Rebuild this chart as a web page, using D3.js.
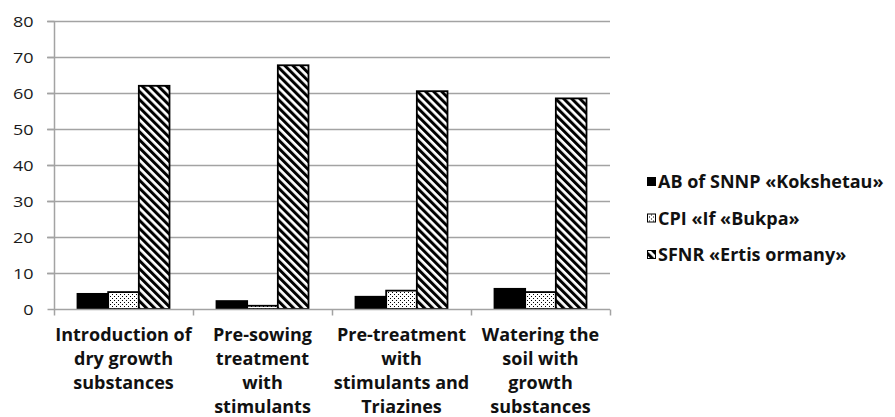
<!DOCTYPE html>
<html><head><meta charset="utf-8">
<script src="https://cdn.jsdelivr.net/npm/d3@7"></script>
<style>body{margin:0;background:#fff;} svg{display:block;}</style>
</head><body>
<svg id="c" width="895" height="417"></svg>
<script>
const categories = [
  ["Introduction of","dry growth","substances"],
  ["Pre-sowing","treatment","with","stimulants"],
  ["Pre-treatment","with","stimulants and","Triazines"],
  ["Watering the","soil with","growth","substances"]
];
const seriesNames = ["AB of SNNP «Kokshetau»","CPI «If «Bukpa»","SFNR «Ertis ormany»"];
const seriesAB = [4.2, 2.2, 3.4, 5.6];
const seriesCPI = [4.7, 0.9, 5.1, 4.7];
const seriesSFNR = [62.0, 67.7, 60.5, 58.5];
const yTicks = [0,10,20,30,40,50,60,70,80];

const svg = d3.select("#c");
const defs = svg.append("defs");
const dots = defs.append("pattern").attr("id","dots").attr("patternUnits","userSpaceOnUse")
  .attr("width",4).attr("height",4);
dots.append("rect").attr("width",4).attr("height",4).attr("fill","#fff");
dots.append("rect").attr("x",0).attr("y",0).attr("width",1).attr("height",1).attr("fill","#000");
dots.append("rect").attr("x",2).attr("y",2).attr("width",1).attr("height",1).attr("fill","#000");
const hatch = defs.append("pattern").attr("id","hatch").attr("patternUnits","userSpaceOnUse")
  .attr("width",5.7).attr("height",10).attr("patternTransform","rotate(-45)");
hatch.append("rect").attr("width",5.7).attr("height",10).attr("fill","#fff");
hatch.append("rect").attr("width",3).attr("height",10).attr("fill","#000");

const fills = ["#000","url(#dots)","url(#hatch)"];
const data = categories.map((c,i)=>({i, vals:[seriesAB[i],seriesCPI[i],seriesSFNR[i]]}));

const y = d3.scaleLinear().domain([0,80]).range([309,21]);
const x = d3.scaleBand().domain(d3.range(categories.length)).range([54,610]).padding(0);
const xi = d3.scaleBand().domain([0,1,2]).range([23.5, x.bandwidth()-23.5]).padding(0);

const font = "'Open Sans', sans-serif";
const gridC = "#a3a3a3";

// gridlines
svg.append("g").selectAll("line").data(yTicks.filter(t=>t>0)).join("line")
  .attr("x1",47).attr("x2",610).attr("y1",d=>Math.round(y(d))+0.5).attr("y2",d=>Math.round(y(d))+0.5)
  .attr("stroke",gridC).attr("stroke-width",1.5);
// y axis
const yAxis = d3.axisLeft(y).tickValues(yTicks).tickSize(7).tickPadding(0);
const gy = svg.append("g").attr("transform","translate(54.5,0)").call(yAxis);
gy.select(".domain").attr("stroke",gridC).attr("stroke-width",1.5).attr("d","M0,21V309");
gy.selectAll(".tick line").attr("stroke",gridC).attr("stroke-width",1.5);
gy.selectAll("text").attr("font-family",font).attr("font-size",14).attr("fill","#1a1a1a")
  .attr("x",-21).attr("dy","0.36em")
  .attr("textLength",d=>String(d).length*10.3).attr("lengthAdjust","spacingAndGlyphs");

// bars
const g = svg.append("g").selectAll("g").data(data).join("g")
  .attr("transform",d=>`translate(${x(d.i)},0)`);
g.selectAll("rect").data(d=>d.vals.map((v,k)=>({v,k}))).join("rect")
  .attr("x",d=>xi(d.k)).attr("width",xi.bandwidth())
  .attr("y",d=>y(d.v)).attr("height",d=>y(0)-y(d.v))
  .attr("fill",d=>fills[d.k]).attr("stroke","#000").attr("stroke-width",1.8);

// x axis
const gx = svg.append("g").attr("transform","translate(0,309.5)");
gx.append("line").attr("x1",54).attr("x2",610).attr("stroke",gridC).attr("stroke-width",1.5);
const bounds = d3.range(categories.length+1).map(i=> i<categories.length ? x(i) : x.range()[1]);
gx.selectAll("line.t").data(bounds).join("line").attr("class","t")
  .attr("x1",d=>Math.round(d)+0.5).attr("x2",d=>Math.round(d)+0.5).attr("y1",0).attr("y2",6)
  .attr("stroke",gridC).attr("stroke-width",1.5);

// category labels
const lab = svg.append("g").selectAll("text").data(data).join("text")
  .attr("font-family",font).attr("font-weight","bold").attr("font-size",18).attr("fill","#111")
  .attr("text-anchor","middle");
lab.selectAll("tspan").data(d=>categories[d.i].map(t=>({t,i:d.i}))).join("tspan")
  .attr("x",d=>x(d.i)+x.bandwidth()/2).attr("y",(d,j)=>341+j*24).text(d=>d.t);

// legend
const leg = svg.append("g").selectAll("g").data(seriesNames).join("g")
  .attr("transform",(d,i)=>`translate(647,${182+i*36.5})`);
leg.append("rect").attr("x",0.5).attr("y",-4.5).attr("width",8).attr("height",8)
  .attr("fill",(d,i)=>fills[i]).attr("stroke","#000").attr("stroke-width",1);
leg.append("text").attr("x",11).attr("y",6).attr("font-family",font).attr("font-weight","bold")
  .attr("font-size",18).attr("fill","#111").text(d=>d);
</script>
</body></html>
